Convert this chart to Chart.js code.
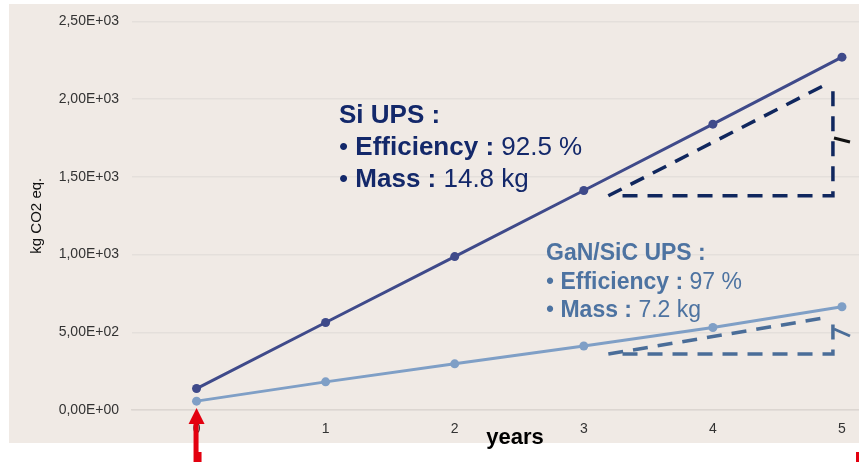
<!DOCTYPE html>
<html>
<head>
<meta charset="utf-8">
<script src="https://cdn.jsdelivr.net/npm/chart.js@4"></script>
<style>
    html, body { margin: 0; padding: 0; background: #fff; overflow: hidden; width: 859px; height: 462px; }
    #caixa { position: relative; width: 911px; height: 462px; }
</style>
</head>
<body>
<div id="caixa"><canvas id="graficoCO2" width="911" height="462"></canvas></div>
<script>
const anos = ['0', '1', '2', '3', '4', '5'];
const siUps = [138, 563, 987, 1412, 1839, 2270];
const ganSicUps = [57, 181, 297, 412, 531, 664];
const marcasY = [0, 500, 1000, 1500, 2000, 2500];

const textoSi = [
    [['Si UPS :', true]],
    [['• ', false], ['Efficiency : ', true], ['92.5 %', false]],
    [['• ', false], ['Mass : ', true], ['14.8 kg', false]]
];
const textoGan = [
    [['GaN/SiC UPS :', true]],
    [['• ', false], ['Efficiency : ', true], ['97 %', false]],
    [['• ', false], ['Mass : ', true], ['7.2 kg', false]]
];

function formatarCientifico(v) {
    const [mant, exp] = v.toExponential(2).split('e');
    const n = parseInt(exp);
    const e = (n < 0 ? '-' : '+') + String(Math.abs(n)).padStart(2, '0');
    return mant.replace('.', ',') + 'E' + e;
}

function escreverBloco(ctx, linhas, x, y, passo, tamanho, cor) {
    ctx.fillStyle = cor;
    ctx.textBaseline = 'alphabetic';
    ctx.textAlign = 'left';
    linhas.forEach((partes, i) => {
        let cx = x;
        partes.forEach(([txt, negrito]) => {
            ctx.font = (negrito ? 'bold ' : '') + tamanho + 'px "Liberation Sans", Arial, sans-serif';
            ctx.fillText(txt, cx, y + i * passo);
            cx += ctx.measureText(txt).width;
        });
    });
}

function tracejado(ctx, pontos, cor) {
    ctx.save();
    ctx.strokeStyle = cor;
    ctx.lineWidth = 3.5;
    ctx.setLineDash([15, 10]);
    ctx.beginPath();
    ctx.moveTo(pontos[0][0], pontos[0][1]);
    pontos.slice(1).forEach(p => ctx.lineTo(p[0], p[1]));
    ctx.stroke();
    ctx.restore();
}

const fundo = {
    id: 'fundo',
    beforeDraw(chart) {
        const ctx = chart.ctx;
        ctx.save();
        ctx.fillStyle = '#fff';
        ctx.fillRect(0, 0, chart.width, chart.height);
        ctx.fillStyle = '#f0eae5';
        ctx.fillRect(9, 4, chart.width - 9, 439);
        ctx.restore();
    }
};

const anotacoes = {
    id: 'anotacoes',
    afterDraw(chart) {
        const ctx = chart.ctx;
        const x = chart.scales.x, y = chart.scales.y;
        const P = (a, b) => [x.getPixelForValue(a), y.getPixelForValue(b)];

        // triangulos tracejados
        tracejado(ctx, [P(3.19, 1378), P(4.87, 2092)], '#10275e');
        tracejado(ctx, [P(3.30, 1378), P(4.93, 1378), P(4.93, 2115)], '#10275e');
        tracejado(ctx, [P(3.19, 360), P(4.86, 592)], '#4a6d98');
        tracejado(ctx, [P(3.30, 360), P(4.93, 360), P(4.93, 608)], '#4a6d98');

        ctx.save();
        ctx.lineWidth = 3;
        ctx.strokeStyle = '#111';
        ctx.beginPath();
        ctx.moveTo(834, 138); ctx.lineTo(850, 142);
        ctx.stroke();
        ctx.strokeStyle = '#4a6d98';
        ctx.beginPath();
        ctx.moveTo(834, 329); ctx.lineTo(850, 336);
        ctx.stroke();
        ctx.restore();

        escreverBloco(ctx, textoSi, 339, 123, 32, 26, '#13286a');
        escreverBloco(ctx, textoGan, 546, 260, 28.5, 23, '#4d73a1');

        // titulo do eixo x
        ctx.save();
        ctx.fillStyle = '#000';
        ctx.font = 'bold 22px "Liberation Sans", Arial, sans-serif';
        ctx.textAlign = 'center';
        ctx.textBaseline = 'alphabetic';
        ctx.fillText('years', 515, 444);

        // seta vermelha
        ctx.fillStyle = '#e3000f';
        const xs = x.getPixelForValue(0);
        ctx.beginPath();
        ctx.moveTo(xs, 408);
        ctx.lineTo(xs + 8, 424);
        ctx.lineTo(xs - 8, 424);
        ctx.closePath();
        ctx.fill();
        ctx.fillRect(xs - 3, 423, 5, 40);
        ctx.fillRect(xs + 1, 452, 4, 10);
        ctx.fillRect(856, 452, 4, 10);
        ctx.restore();
    }
};

new Chart(document.getElementById('graficoCO2'), {
    type: 'line',
    data: {
        labels: anos,
        datasets: [
            {
                label: 'Si UPS',
                data: siUps,
                borderColor: '#3f4a8a',
                backgroundColor: '#3f4a8a',
                borderWidth: 3,
                pointRadius: 4.5,
                pointBorderWidth: 0,
                tension: 0
            },
            {
                label: 'GaN/SiC UPS',
                data: ganSicUps,
                borderColor: '#7f9fc6',
                backgroundColor: '#7f9fc6',
                borderWidth: 3,
                pointRadius: 4.5,
                pointBorderWidth: 0,
                tension: 0
            }
        ]
    },
    options: {
        responsive: false,
        animation: false,
        devicePixelRatio: 1,
        layout: { padding: { top: 18, right: 0, bottom: 0, left: 0 } },
        plugins: {
            legend: { display: false },
            tooltip: { enabled: false }
        },
        scales: {
            x: {
                type: 'category',
                offset: true,
                grid: { display: false, drawTicks: false },
                border: { color: '#dcd6d1', width: 1.5 },
                ticks: { color: '#333', font: { size: 14, family: '"Liberation Sans", Arial' }, padding: 11 },
                afterFit(scale) { scale.height = 52; }
            },
            y: {
                min: 0,
                max: 2500,
                afterBuildTicks(scale) { scale.ticks = marcasY.map(v => ({ value: v })); },
                grid: { color: '#e4dfdb', lineWidth: 1.5, drawTicks: false },
                border: { display: false },
                ticks: {
                    color: '#333',
                    font: { size: 14, family: '"Liberation Sans", Arial' },
                    padding: 13,
                    callback: v => formatarCientifico(v)
                },
                title: {
                    display: true,
                    text: 'kg CO2 eq.',
                    color: '#111',
                    font: { size: 15, family: '"Liberation Sans", Arial' },
                    padding: { top: 28, bottom: 0 }
                },
                afterFit(scale) { scale.width = 132; }
            }
        }
    },
    plugins: [fundo, anotacoes]
});
</script>
</body>
</html>
